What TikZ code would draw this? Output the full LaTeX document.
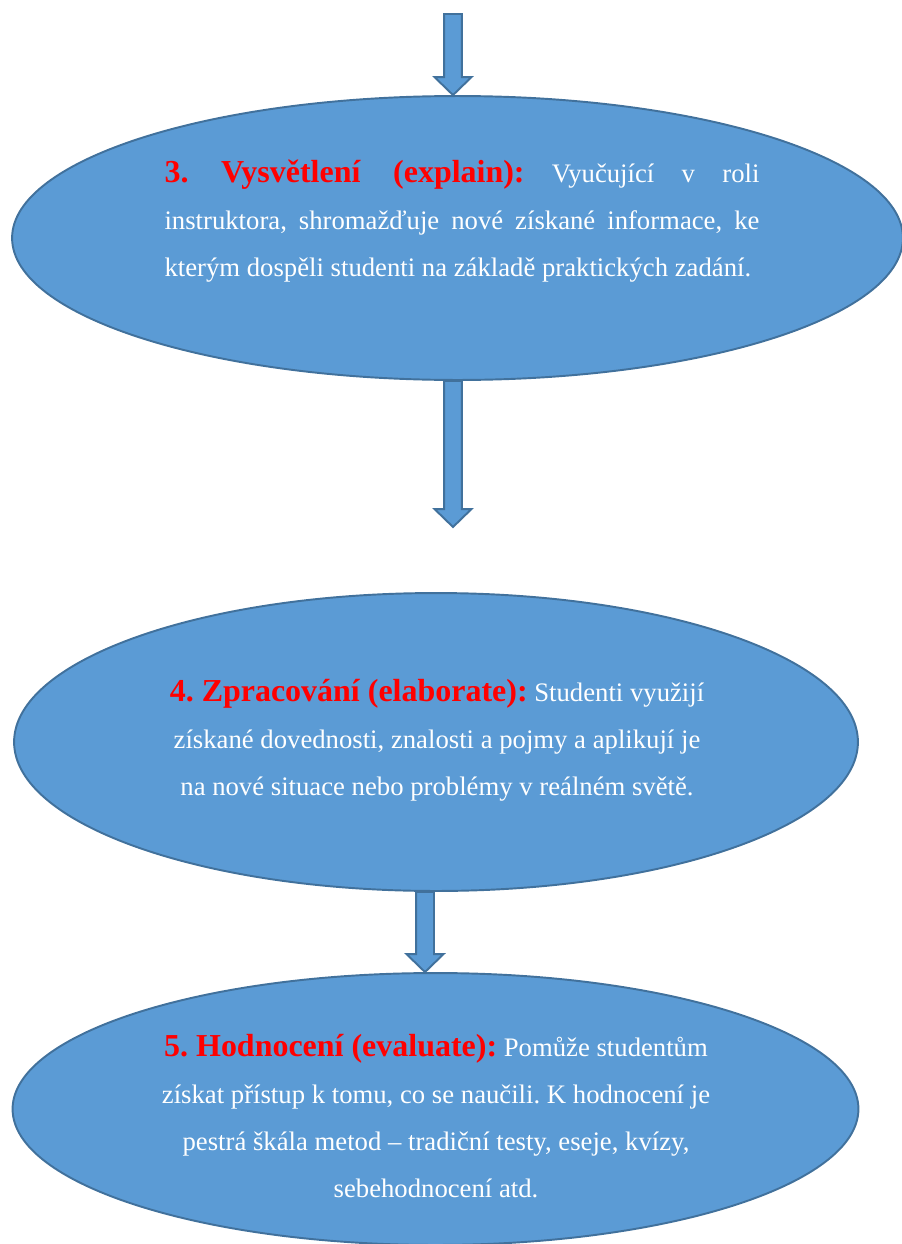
\documentclass[tikz,border=0pt]{standalone}
\usepackage{fontspec}
\setmainfont{Liberation Serif}
\usetikzlibrary{shapes.geometric,calc,backgrounds}

\definecolor{phaseblue}{HTML}{5B9BD5}
\definecolor{phaseedge}{HTML}{41719C}
\definecolor{titlered}{HTML}{FF0000}

\tikzset{
	phase/.style={ellipse,draw=phaseedge,fill=phaseblue,line width=1.1pt,inner sep=0pt},
	phasetext/.style={text=white,inner sep=0pt,font=\fontsize{15.2}{26.7}\selectfont\frenchspacing},
	arrowbody/.style={draw=phaseedge,fill=phaseblue,line width=1.1pt,line join=miter}
}
\newcommand{\phasetitle}[1]{{\fontsize{18.2}{26.7}\selectfont\bfseries\color{titlered}#1}}
\newcommand{\flowarrow}[2]{%
	\draw[arrowbody] let \p1=(#1), \p2=(#2) in
		(\x1-5.1pt,\y1)--(\x1+5.1pt,\y1)--(\x1+5.1pt,\y2+10.2pt)--(\x1+10.5pt,\y2+10.2pt)
		--(\x1,\y2)--(\x1-10.5pt,\y2+10.2pt)--(\x1-5.1pt,\y2+10.2pt)--cycle;}

\begin{document}
\begin{tikzpicture}[x=0.02cm,y=-0.02cm]
	\useasboundingbox (0,0) rectangle (902,1244);

	%ELLIPSES
	\node[phase,minimum width=17.82cm,minimum height=5.68cm] (explain) at (457.5,238) {};
	\node[phase,minimum width=16.88cm,minimum height=5.96cm] (elaborate) at (436,742) {};
	\node[phase,minimum width=16.92cm,minimum height=5.44cm] (evaluate) at (435.5,1109) {};

	%ARROWS
	\coordinate (start) at (453,14);
	\coordinate (gap) at (453,527);
	\begin{pgfonlayer}{background}
		\flowarrow{start}{start |- explain.north}		%into 3
		\flowarrow{start |- explain.south}{gap}			%out of 3
		\flowarrow{[xshift=-0.22cm]elaborate.south}{[xshift=-0.22cm]evaluate.north}	%4 to 5
	\end{pgfonlayer}

	%TEXTS
	\node[phasetext,text width=338.6pt,align=justify] (explaintext) at (462,221)
		{\phasetitle{3. Vysvětlení (explain):} Vyučující v roli\linebreak
		instruktora, shromažďuje nové získané informace, ke\linebreak
		kterým dospěli studenti na základě praktických zadání.};
	\node[phasetext,align=center] (elaboratetext) at (437,740)
		{\phasetitle{4. Zpracování (elaborate):} Studenti využijí\\
		získané dovednosti, znalosti a pojmy a aplikují je\\
		na nové situace nebo problémy v reálném světě.};
	\node[phasetext,align=center] (evaluatetext) at (436,1116)
		{\phasetitle{5. Hodnocení (evaluate):} Pomůže studentům\\
		získat přístup k tomu, co se naučili. K hodnocení je\\
		pestrá škála metod -- tradiční testy, eseje, kvízy,\\
		sebehodnocení atd.};
\end{tikzpicture}
\end{document}
